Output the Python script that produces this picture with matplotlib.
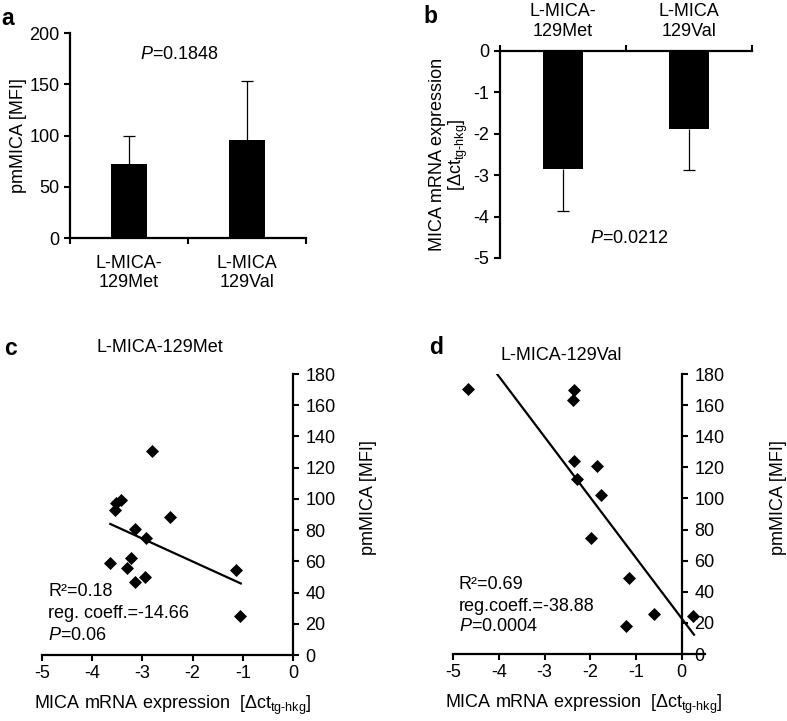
"""Fig: MICA-129 allele comparison (surface MICA, mRNA, and their correlation).

Writes: out.png

Panels a/b are bar charts (mean + one-sided SD) per allele group,
panels c/d are scatter plots of pmMICA vs mRNA expression with the
linear regression line.
"""

import matplotlib.pyplot as plt
import numpy as np

plt.rcParams["font.family"] = ["Liberation Sans", "DejaVu Sans"]
plt.rcParams["mathtext.fontset"] = "custom"
plt.rcParams["mathtext.rm"] = "Liberation Sans"
plt.rcParams["mathtext.it"] = "Liberation Sans:italic"
plt.rcParams["axes.unicode_minus"] = False

FS = 13

# --- data -------------------------------------------------------------
groups = ["L-MICA-\n129Met", "L-MICA\n129Val"]

pm_mean = [72, 96]
pm_sd = [28, 57]

mrna_mean = [-2.85, -1.88]
mrna_sd = [1.01, 0.99]

met_dct = [-2.80, -3.43, -3.52, -3.54, -2.46, -3.15, -2.92, -3.64, -3.22,
           -3.31, -2.94, -3.15, -1.13, -1.06]
met_mfi = [131, 99.6, 97.7, 93, 88.5, 80.6, 75.2, 58.8, 62.4,
           55.6, 50, 46.6, 54.3, 25.2]

val_dct = [-4.67, -2.36, -2.39, -2.36, -1.86, -2.30, -1.77, -1.99, -1.15,
           -0.61, -1.22, 0.24]
val_mfi = [170.6, 169.5, 163.5, 123.8, 120.8, 112.5, 102.2, 74.6, 48.9,
           25.9, 17.8, 24.6]

# regression: slope as reported, intercept
met_fit = {"slope": -14.66, "icpt": 30.6, "x": [-3.64, -1.04]}
val_fit = {"slope": -38.88, "icpt": 22.9, "x": [-4.04, 0.27]}

DCT_SUB = r"[$\Delta$ct$_{\mathrm{tg}\text{-}\mathrm{hkg}}$]"


def style_axis(ax):
    ax.tick_params(labelsize=FS, width=1.5, length=4, direction="out")
    for s in ax.spines.values():
        s.set_linewidth(1.6)


def bar_panel(ax, means, sds, upward):
    x = np.arange(len(means)) + 0.5
    means = np.array(means)
    sds = np.array(sds)
    ends = means + sds if upward else means - sds
    ax.bar(x, means, 0.31, color="black", zorder=2)
    # one-sided error bars, cap only at the far end
    ax.vlines(x, means, ends, color="black", lw=0.9, zorder=1)
    ax.plot(x, ends, "_", color="black", ms=9, mew=0.9, zorder=1)
    ax.set_xlim(0, len(means))
    ax.set_xticks(np.arange(len(means) + 1))
    ax.set_xticklabels([])
    ax.set_xticks(x, minor=True)
    ax.set_xticklabels(groups, minor=True, fontsize=FS)
    style_axis(ax)


def scatter_panel(ax, xs, ys, fit, title, title_pos, stats, stats_y, xmax):
    ax.scatter(xs, ys, marker="D", s=44, color="black", zorder=3,
               linewidths=0)
    lx = np.array(fit["x"])
    ax.plot(lx, fit["icpt"] + fit["slope"] * lx, color="black", lw=1.6)
    ax.set_xlim(-5, xmax)
    ax.set_ylim(0, 180)
    ax.set_xticks(np.arange(-5, 1))
    ax.set_yticks(np.arange(0, 181, 20))
    ax.spines["left"].set_visible(False)
    ax.spines["top"].set_visible(False)
    ax.spines["right"].set_position(("data", 0))
    ax.yaxis.tick_right()
    style_axis(ax)
    ax.tick_params(axis="y", pad=5)
    ax.text(title_pos[0], title_pos[1], title, transform=ax.transAxes,
            ha="center", va="center", fontsize=FS)
    for txt, yy in zip(stats, stats_y):
        ax.text(-4.88, yy, txt, ha="left", va="center", fontsize=FS)
    ax.text(0.52, -0.18, "MICA mRNA expression  " + DCT_SUB,
            transform=ax.transAxes, ha="center", va="center", fontsize=FS)


def main():
    fig = plt.figure(figsize=(7.87, 7.21), dpi=100)

    # a: surface MICA
    ax_a = fig.add_axes([0.0889, 0.6699, 0.2999, 0.2843])
    bar_panel(ax_a, pm_mean, pm_sd, upward=True)
    ax_a.set_ylim(0, 200)
    ax_a.set_yticks(np.arange(0, 201, 50))
    ax_a.spines["top"].set_visible(False)
    ax_a.spines["right"].set_visible(False)
    ax_a.tick_params(axis="x", which="minor", length=0, pad=12)
    ax_a.set_ylabel("pmMICA [MFI]", fontsize=FS, labelpad=2)
    ax_a.text(0.93, 179, r"$P$=0.1848", ha="center", va="center", fontsize=FS)

    # b: mRNA expression (bars hang from zero)
    ax_b = fig.add_axes([0.6353, 0.6422, 0.3202, 0.2871])
    bar_panel(ax_b, mrna_mean, mrna_sd, upward=False)
    ax_b.set_ylim(-5, 0)
    ax_b.set_yticks(np.arange(-5, 1))
    ax_b.spines["bottom"].set_visible(False)
    ax_b.spines["right"].set_visible(False)
    ax_b.xaxis.tick_top()
    ax_b.tick_params(axis="x", which="minor", length=0, pad=8)
    ax_b.set_ylabel("MICA mRNA expression\n" + DCT_SUB,
                    fontsize=FS, labelpad=3, linespacing=1.05)
    ax_b.text(1.03, -4.54, r"$P$=0.0212", ha="center", va="center",
              fontsize=FS)

    # c / d: correlation scatter
    ax_c = fig.add_axes([0.0534, 0.0915, 0.3189, 0.3897])
    scatter_panel(ax_c, met_dct, met_mfi, met_fit, "L-MICA-129Met",
                  (0.47, 1.093),
                  ["R²=0.18", "reg. coeff.=-14.66", r"$P$=0.06"],
                  [41, 26.9, 12.8], 0)
    ax_c.text(1.30, 0.56, "pmMICA [MFI]", transform=ax_c.transAxes,
              rotation=90, ha="center", va="center", fontsize=FS)

    ax_d = fig.add_axes([0.576, 0.0929, 0.3192, 0.3883])
    scatter_panel(ax_d, val_dct, val_mfi, val_fit, "L-MICA-129Val",
                  (0.43, 1.068),
                  ["R²=0.69", "reg.coeff.=-38.88", r"$P$=0.0004"],
                  [45, 30.8, 17.4], 0.5)
    ax_d.text(1.293, 0.56, "pmMICA [MFI]", transform=ax_d.transAxes,
              rotation=90, ha="center", va="center", fontsize=FS)

    for lab, x, y in [("a", 0.002, 0.975), ("b", 0.538, 0.977),
                      ("c", 0.005, 0.516), ("d", 0.545, 0.518)]:
        fig.text(x, y, lab, fontsize=16.5, fontweight="bold",
                 ha="left", va="center")

    fig.savefig("out.png", dpi=100)
    plt.close(fig)


if __name__ == "__main__":
    main()
